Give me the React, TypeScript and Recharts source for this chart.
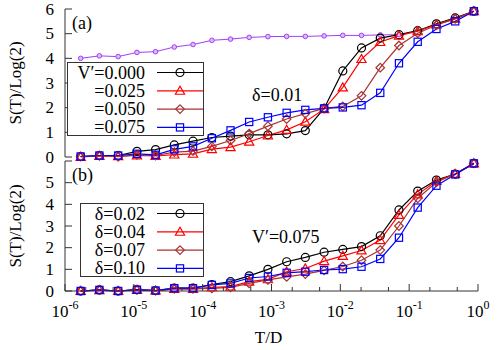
import React from 'react';
import { LineChart, Line, XAxis, YAxis, Legend } from 'recharts';

// temperatures (T/D) of the NRG points, left to right
const temps = [
  1.69e-6, 3.16e-6, 5.92e-6, 1.11e-5, 2.07e-5, 3.87e-5, 7.24e-5, 1.36e-4, 2.54e-4, 4.74e-4, 8.87e-4,
  1.66e-3, 3.1e-3, 5.81e-3, 1.086e-2, 2.03e-2, 3.8e-2, 7.11e-2, 0.133, 0.249, 0.466, 0.871,
];

// panel (a): delta = 0.01
const topLabels = ['V\u2032=0.000', '=0.025', '=0.050', '=0.075'];
const refCurve = [4.0, 4.1, 4.07, 4.24, 4.27, 4.46, 4.56, 4.73, 4.78, 4.85, 4.88, 4.89, 4.89, 4.91, 4.93, 4.93, 4.95, 4.96, null, null, null, null];
const v000 = [0.02, 0.06, 0.06, 0.23, 0.3, 0.49, 0.64, 0.79, 0.85, 0.9, 0.9, 0.94, 1.07, 1.97, 3.49, 4.42, 4.82, 4.96, 5.12, 5.4, 5.64, 5.91];
const v025 = [0.0, 0.04, 0.03, 0.06, 0.04, 0.1, 0.13, 0.32, 0.4, 0.62, 0.87, 1.1, 1.43, 1.94, 2.82, 3.97, 4.66, 4.92, 5.1, 5.37, 5.61, 5.91];
const v050 = [0.02, 0.05, 0.01, 0.09, 0.06, 0.2, 0.24, 0.43, 0.67, 0.95, 1.25, 1.54, 1.76, 1.97, 2.05, 2.48, 3.62, 4.52, 5.02, 5.35, 5.6, 5.91];
const v075 = [0.02, 0.06, 0.06, 0.13, 0.09, 0.31, 0.43, 0.76, 1.08, 1.42, 1.61, 1.79, 1.91, 1.97, 2.01, 2.1, 2.6, 3.8, 4.67, 5.19, 5.5, 5.91];

// panel (b): V' = 0.075
const bottomLabels = ['\u03b4=0.02', '\u03b4=0.04', '\u03b4=0.07', '\u03b4=0.10'];
const d02 = [0.0, 0.05, 0.0, 0.06, 0.02, 0.13, 0.13, 0.3, 0.43, 0.7, 1.0, 1.35, 1.55, 1.79, 1.92, 2.05, 2.55, 3.74, 4.61, 5.12, 5.4, 5.89];
const d04 = [0.0, 0.04, 0.0, 0.05, 0.02, 0.1, 0.1, 0.17, 0.2, 0.43, 0.54, 0.89, 1.04, 1.38, 1.62, 1.87, 2.35, 3.51, 4.46, 5.08, 5.4, 5.89];
const d07 = [0.0, 0.04, 0.0, 0.05, 0.02, 0.1, 0.1, 0.12, 0.17, 0.35, 0.51, 0.65, 0.78, 0.95, 1.13, 1.42, 1.89, 3.0, 4.28, 5.02, 5.4, 5.89];
const d10 = [0.0, 0.05, 0.0, 0.06, 0.02, 0.13, 0.13, 0.28, 0.35, 0.6, 0.67, 0.84, 0.89, 0.97, 1.01, 1.12, 1.48, 2.46, 3.85, 4.86, 5.38, 5.89];

const xTicks = [
  1e-6, 2e-6, 5e-6, 1e-5, 2e-5, 5e-5, 1e-4, 2e-4, 5e-4, 1e-3, 2e-3, 5e-3,
  1e-2, 2e-2, 5e-2, 1e-1, 2e-1, 5e-1, 1,
];
const yTicks = [0, 1, 2, 3, 4, 5, 6];

const topData = temps.map((T, i) => ({ T, ref: refCurve[i], s0: v000[i], s1: v025[i], s2: v050[i], s3: v075[i] }));
const bottomData = temps.map((T, i) => ({ T, s0: d02[i], s1: d04[i], s2: d07[i], s3: d10[i] }));

const FONT = '"Liberation Serif", "Times New Roman", Times, serif';
const FRAME = '#333';
const colors = ['#000000', '#ff0000', '#a83232', '#0000ff'];
const shapes = ['circle', 'triangle', 'diamond', 'square'];

const Marker = ({ cx, cy, shape, color }: any) => {
  if (cx == null || cy == null || isNaN(cx) || isNaN(cy)) return <g />;
  if (shape === 'circle') return <circle cx={cx} cy={cy} r={4} fill="none" stroke={color} strokeWidth={1.2} />;
  if (shape === 'triangle') {
    const s = 4.6;
    return <polygon points={`${cx},${cy - s} ${cx - s},${cy + s * 0.75} ${cx + s},${cy + s * 0.75}`} fill="none" stroke={color} strokeWidth={1.2} />;
  }
  if (shape === 'diamond') {
    const s = 4.3;
    return <polygon points={`${cx},${cy - s} ${cx + s},${cy} ${cx},${cy + s} ${cx - s},${cy}`} fill="none" stroke={color} strokeWidth={1.2} />;
  }
  if (shape === 'square') return <rect x={cx - 3.6} y={cy - 3.6} width={7.2} height={7.2} fill="none" stroke={color} strokeWidth={1.2} />;
  return <circle cx={cx} cy={cy} r={2.3} fill="#e0b8ff" stroke={color} strokeWidth={1} />;
};

const isMajor = (v: number) => Math.abs(Math.log10(v) - Math.round(Math.log10(v))) < 1e-6;

const XTick = ({ x, y, payload, dir, labels }: any) => {
  const v = payload.value;
  const major = isMajor(v);
  const len = major ? 7 : 4;
  const e = Math.round(Math.log10(v));
  return (
    <g>
      <line x1={x} x2={x} y1={y} y2={y + dir * len} stroke={FRAME} strokeWidth={1} />
      {labels && major && (
        <text x={x} y={y + 26} textAnchor="middle" fontSize={17} fontFamily={FONT} fill="#000">
          <tspan>10</tspan>
          <tspan dy={-8} fontSize={12}>{e}</tspan>
        </text>
      )}
    </g>
  );
};

// skip: a tick value whose label is left out (top of lower panel)
const YTick = ({ x, y, payload, dir, labels, skip }: any) => (
  <g>
    <line x1={x} x2={x + dir * 7} y1={y} y2={y} stroke={FRAME} strokeWidth={1} />
    {labels && payload.value !== skip && (
      <text x={x - 11} y={y} textAnchor="end" dominantBaseline="central" fontSize={17} fontFamily={FONT} fill="#000">
        {payload.value}
      </text>
    )}
  </g>
);

const yTitle = ({ viewBox }: any) => {
  const cx = 15;
  const cy = viewBox.y + viewBox.height / 2;
  return (
    <text x={cx} y={cy} transform={`rotate(-90, ${cx}, ${cy})`} textAnchor="middle" dominantBaseline="central" fontSize={17} fontFamily={FONT} fill="#000">
      S(T)/Log(2)
    </text>
  );
};

const xTitle = ({ viewBox }: any) => (
  <text x={viewBox.x + viewBox.width / 2 - 3} y={viewBox.y + 46} textAnchor="middle" dominantBaseline="central" fontSize={17} fontFamily={FONT} fill="#000">
    T/D
  </text>
);

const LegendBox = ({ labels, w, h, textRight, lineFrom, lineTo }: any) => (
  <svg width={w} height={h} style={{ display: 'block' }}>
    <rect x={0.5} y={0.5} width={w - 1} height={h - 1} fill="#fff" stroke={FRAME} />
    {labels.map((label: string, i: number) => {
      const y = 10.5 + i * 18.3;
      return (
        <g key={label}>
          <text x={textRight} y={y} textAnchor="end" dominantBaseline="central" fontSize={18} fontFamily={FONT} fill="#000">
            {label}
          </text>
          <line x1={lineFrom} x2={lineTo} y1={y} y2={y} stroke={colors[i]} strokeWidth={1.2} />
          <Marker cx={(lineFrom + lineTo) / 2} cy={y} shape={shapes[i]} color={colors[i]} />
        </g>
      );
    })}
  </svg>
);

const frameAxes = (lower: boolean) => [
  <XAxis
    key="xb"
    dataKey="T"
    type="number"
    scale="log"
    domain={[1e-6, 1]}
    ticks={xTicks}
    interval={0}
    height={lower ? 59 : 0}
    tickSize={0}
    tickMargin={0}
    tickLine={false}
    axisLine={{ stroke: FRAME }}
    tick={(p: any) => <XTick {...p} dir={-1} labels={lower} />}
    label={lower ? { content: xTitle } : undefined}
  />,
  <XAxis
    key="xt"
    xAxisId="top"
    orientation="top"
    type="number"
    scale="log"
    domain={[1e-6, 1]}
    allowDataOverflow
    ticks={xTicks}
    interval={0}
    height={0}
    tickSize={0}
    tickMargin={0}
    tickLine={false}
    axisLine={{ stroke: FRAME }}
    tick={(p: any) => <XTick {...p} dir={1} labels={false} />}
  />,
  <YAxis
    key="yl"
    type="number"
    domain={[0, 6]}
    ticks={yTicks}
    interval={0}
    width={65}
    tickSize={0}
    tickMargin={0}
    tickLine={false}
    axisLine={{ stroke: FRAME }}
    tick={(p: any) => <YTick {...p} dir={1} labels skip={lower ? 6 : null} />}
    label={{ content: yTitle }}
  />,
  <YAxis
    key="yr"
    yAxisId="r"
    orientation="right"
    type="number"
    domain={[0, 6]}
    allowDataOverflow
    ticks={yTicks}
    interval={0}
    width={0}
    tickSize={0}
    tickMargin={0}
    tickLine={false}
    axisLine={{ stroke: FRAME }}
    tick={(p: any) => <YTick {...p} dir={-1} labels={false} />}
  />,
];

const series = (keys: string[]) =>
  keys.map((k, i) => (
    <Line
      key={k}
      dataKey={k}
      type="linear"
      stroke={colors[i]}
      strokeWidth={1.2}
      isAnimationActive={false}
      activeDot={false}
      dot={(p: any) => <Marker key={`${k}-${p.index}`} cx={p.cx} cy={p.cy} shape={shapes[i]} color={colors[i]} />}
    />
  ));

const App = () => {
  return (
    <div style={{ position: 'absolute', left: 0, top: 0, width: 500, height: 350, background: '#fff' }}>
      <div style={{ position: 'absolute', left: 0, top: 0 }}>
        <LineChart width={500} height={165} data={topData} margin={{ top: 9, right: 22, bottom: 8, left: 0 }}>
          {frameAxes(false)}
          <Line
            dataKey="ref"
            type="linear"
            stroke="#a040f0"
            strokeWidth={1}
            isAnimationActive={false}
            activeDot={false}
            dot={(p: any) => <Marker key={`ref-${p.index}`} cx={p.cx} cy={p.cy} shape="small" color="#a040f0" />}
          />
          {series(['s0', 's1', 's2', 's3'])}
          <Legend
            layout="horizontal"
            verticalAlign="middle"
            align="center"
            wrapperStyle={{ left: 67, top: 62, width: 137, height: 74 }}
            content={() => <LegendBox labels={topLabels} w={137} h={74} textRight={78} lineFrom={90} lineTo={136} />}
          />
        </LineChart>
      </div>
      <div style={{ position: 'absolute', left: 0, top: 0 }}>
        <LineChart width={500} height={350} data={bottomData} margin={{ top: 161, right: 22, bottom: 0, left: 0 }}>
          {frameAxes(true)}
          {series(['s0', 's1', 's2', 's3'])}
          <Legend
            layout="horizontal"
            verticalAlign="middle"
            align="center"
            wrapperStyle={{ left: 80, top: 203, width: 124, height: 74 }}
            content={() => <LegendBox labels={bottomLabels} w={124} h={74} textRight={65} lineFrom={77} lineTo={123} />}
          />
        </LineChart>
      </div>
      <svg width={500} height={350} style={{ position: 'absolute', left: 0, top: 0, pointerEvents: 'none' }}>
        <g fontFamily={FONT} fontSize={18} fill="#000" dominantBaseline="central">
          <text x={72} y={23}>(a)</text>
          <text x={252} y={95}>{'\u03b4=0.01'}</text>
          <text x={72} y={175}>(b)</text>
          <text x={252} y={237}>{'V\u2032=0.075'}</text>
        </g>
      </svg>
    </div>
  );
};

export default App;
